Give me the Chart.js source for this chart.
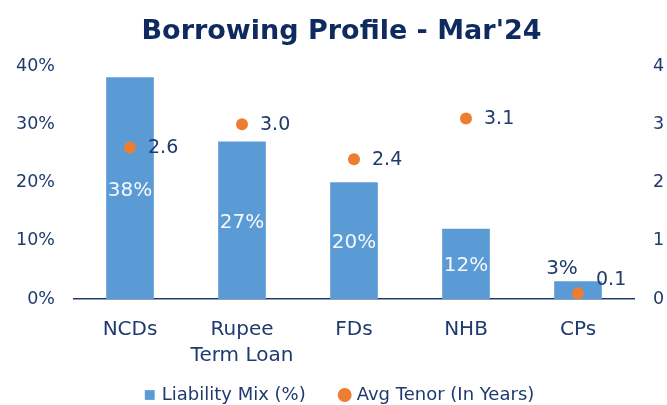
<!DOCTYPE html>
<html>
<head>
<meta charset="utf-8">
<script src="https://cdn.jsdelivr.net/npm/chart.js@4.4.1/dist/chart.umd.min.js"></script>
<style>
  html, body { margin: 0; padding: 0; background: #ffffff; }
  #wrap { width: 667px; height: 405px; position: relative; }
</style>
</head>
<body>
<div id="wrap"><canvas id="c" width="667" height="405"></canvas></div>
<script>
const categories = ['NCDs', ['Rupee', 'Term Loan'], 'FDs', 'NHB', 'CPs'];
const liabilityMix = [38, 27, 20, 12, 3];
const avgTenor = [2.6, 3.0, 2.4, 3.1, 0.1];
const leftTicks = [0, 10, 20, 30, 40];
const rightTicks = [0, 1, 2, 3, 4];

const NAVY = '#1F3A6E';
const TITLE = '#0E2A5E';
const BLUE = '#5B9BD5';
const ORANGE = '#ED7D31';
const FONT = '"DejaVu Sans", sans-serif';
const LEGEND_PAD = 36;
const LEGEND_FONT = 18;

const labelPlugin = {
  id: 'valueLabels',
  afterLayout(chart) {
    // fine placement of title and legend boxes
    const t = chart.titleBlock;
    if (t) { t.left += 8; t.right += 8; }
    const lg = chart.legend;
    if (lg) {
      const h = lg.bottom - lg.top;
      lg.top = 396 - LEGEND_PAD - 10;
      lg.bottom = lg.top + h;
      lg.left += 7; lg.right += 7;
    }
  },
  afterDatasetsDraw(chart) {
    const ctx = chart.ctx;
    const barMeta = chart.getDatasetMeta(0);
    const ptMeta = chart.getDatasetMeta(1);
    ctx.save();
    ctx.textBaseline = 'middle';
    barMeta.data.forEach((bar, i) => {
      const h = bar.base - bar.y;
      const txt = liabilityMix[i] + '%';
      ctx.font = '20px ' + FONT;
      ctx.textAlign = 'center';
      if (h > 30) {
        ctx.fillStyle = '#F4F7FB';
        ctx.fillText(txt, bar.x, (bar.y + bar.base) / 2 + 2);
      } else {
        ctx.fillStyle = NAVY;
        ctx.fillText(txt, bar.x - 16, bar.y - 13);
      }
    });
    ptMeta.data.forEach((pt, i) => {
      const bar = barMeta.data[i];
      const short = (bar.base - bar.y) <= 30;
      ctx.font = '19px ' + FONT;
      ctx.fillStyle = NAVY;
      ctx.textAlign = 'left';
      ctx.fillText(avgTenor[i].toFixed(1), pt.x + 18, short ? pt.y - 13 : pt.y + 1);
    });
    ctx.restore();
  }
};

new Chart(document.getElementById('c'), {
  data: {
    labels: categories,
    datasets: [
      {
        type: 'bar',
        label: 'Liability Mix (%)',
        data: liabilityMix,
        backgroundColor: BLUE,
        borderWidth: 0,
        barThickness: 47,
        yAxisID: 'y',
        order: 2,
        pointStyle: 'rect'
      },
      {
        type: 'line',
        label: 'Avg Tenor (In Years)',
        data: avgTenor,
        showLine: false,
        pointRadius: 6,
        pointHoverRadius: 6,
        pointBackgroundColor: ORANGE,
        pointBorderWidth: 0,
        backgroundColor: ORANGE,
        borderColor: ORANGE,
        pointStyle: 'circle',
        yAxisID: 'y1',
        order: 1
      }
    ]
  },
  options: {
    responsive: false,
    animation: false,
    devicePixelRatio: 1,
    layout: { padding: { left: 0, right: 0, top: 0, bottom: -26 } },
    plugins: {
      title: {
        display: true,
        text: "Borrowing Profile - Mar'24",
        color: TITLE,
        font: { family: FONT, size: 27, weight: 'bold' },
        padding: { top: 15.5, bottom: 18.1 }
      },
      legend: {
        position: 'bottom',
        labels: {
          usePointStyle: true,
          boxHeight: 9.8,
          boxWidth: 6,
          color: NAVY,
          font: { family: FONT, size: LEGEND_FONT },
          padding: LEGEND_PAD,
          sort: (a, b) => a.datasetIndex - b.datasetIndex
        }
      },
      tooltip: { enabled: false }
    },
    scales: {
      x: {
        grid: { display: false, drawTicks: false },
        border: { display: true, color: NAVY, width: 1.5 },
        ticks: {
          color: NAVY,
          font: { family: FONT, size: 20, lineHeight: 1.33 },
          padding: 17,
          maxRotation: 0
        },
        afterFit(scale) { scale.height = 68; }
      },
      y: {
        position: 'left',
        min: 0,
        max: 40,
        afterBuildTicks(scale) { scale.ticks = leftTicks.map(v => ({ value: v })); },
        grid: { display: false, drawTicks: false },
        border: { display: false },
        ticks: {
          color: NAVY,
          font: { family: FONT, size: 17.5 },
          padding: 19,
          callback: v => v + '%'
        },
        afterFit(scale) { scale.width = 74; }
      },
      y1: {
        position: 'right',
        min: 0,
        max: 4,
        afterBuildTicks(scale) { scale.ticks = rightTicks.map(v => ({ value: v })); },
        grid: { display: false, drawTicks: false },
        border: { display: false },
        ticks: {
          color: NAVY,
          font: { family: FONT, size: 17.5 },
          padding: 19,
          callback: v => String(v)
        },
        afterFit(scale) { scale.width = 33; }
      }
    }
  },
  plugins: [labelPlugin]
});
</script>
</body>
</html>
